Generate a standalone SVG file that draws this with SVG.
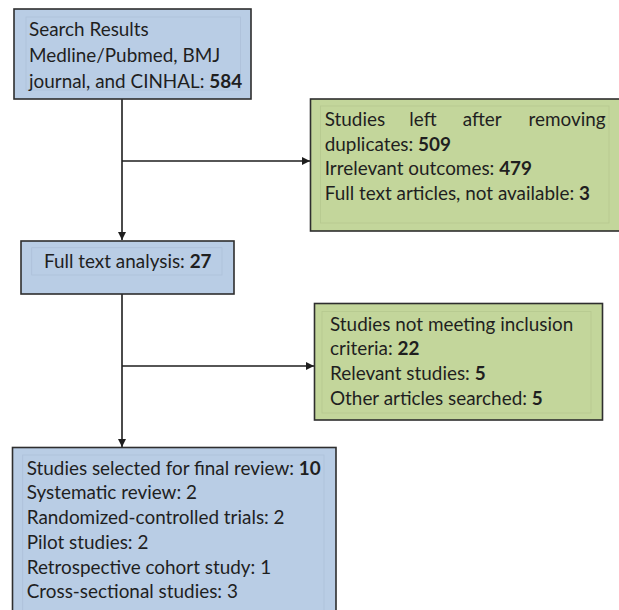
<svg xmlns="http://www.w3.org/2000/svg" width="619" height="610" viewBox="0 0 619 610">
<defs>
<marker id="arr" viewBox="0 0 10 10" refX="10" refY="5" markerWidth="9" markerHeight="8" markerUnits="userSpaceOnUse" orient="auto">
<path d="M0,0 L10,5 L0,10 z" fill="#1e1e1e"/>
</marker>
<style>
.blue{fill:#b9cde5;stroke:#2e2e2e;stroke-width:1.6}
.green{fill:#c3d69b;stroke:#2e2e2e;stroke-width:1.6}
.inb{fill:none;stroke:#adc0d9;stroke-width:0.8}
.ing{fill:none;stroke:#b6c98f;stroke-width:0.8}
.t{font-family:Lato,"Liberation Sans",sans-serif;font-size:18.9px;fill:#1f1f1f}
.b{font-weight:bold}
.c{fill:none;stroke:#1e1e1e;stroke-width:1.6}
</style>
</defs>
<g id="connectors">
<line class="c" x1="122" y1="99" x2="122" y2="240" marker-end="url(#arr)"/>
<line class="c" x1="122" y1="161" x2="310" y2="161" marker-end="url(#arr)"/>
<line class="c" x1="122" y1="294" x2="122" y2="447" marker-end="url(#arr)"/>
<line class="c" x1="122" y1="366" x2="314" y2="366" marker-end="url(#arr)"/>
</g>
<g id="search">
<rect class="blue" x="14" y="9" width="237" height="90"/>
<rect class="inb" x="26" y="17" width="214.5" height="73"/>
<text class="t" x="29" y="36">Search Results</text>
<text class="t" x="29" y="62">Medline/Pubmed, BMJ</text>
<text class="t" x="29" y="88">journal, and CINHAL: <tspan class="b">584</tspan></text>
</g>
<g id="removed">
<rect class="green" x="310.5" y="99" width="320" height="132"/>
<rect class="ing" x="320.5" y="106" width="288.5" height="117"/>
<text class="t" x="324.7" y="126">Studies</text>
<text class="t" x="409.3" y="126">left</text>
<text class="t" x="462.7" y="126">after</text>
<text class="t" x="605.7" y="126" text-anchor="end">removing</text>
<text class="t" x="324.7" y="150.5">duplicates: <tspan class="b">509</tspan></text>
<text class="t" x="324.7" y="175">Irrelevant outcomes: <tspan class="b">479</tspan></text>
<text class="t" x="324.7" y="199.5">Full text articles, not available: <tspan class="b">3</tspan></text>
</g>
<g id="fulltext">
<rect class="blue" x="21" y="241" width="213" height="53"/>
<rect class="inb" x="31.7" y="247.7" width="190.3" height="27.3"/>
<text class="t" x="44" y="268">Full text analysis: <tspan class="b">27</tspan></text>
</g>
<g id="excluded">
<rect class="green" x="314.5" y="303.5" width="288" height="116.5"/>
<rect class="ing" x="322" y="311.5" width="269" height="101.5"/>
<text class="t" x="330" y="330.5">Studies not meeting inclusion</text>
<text class="t" x="330" y="355">criteria: <tspan class="b">22</tspan></text>
<text class="t" x="330" y="380">Relevant studies: <tspan class="b">5</tspan></text>
<text class="t" x="330" y="404.5">Other articles searched: <tspan class="b">5</tspan></text>
</g>
<g id="final">
<rect class="blue" x="12.5" y="447.5" width="323.5" height="180"/>
<rect class="inb" x="22.7" y="455" width="301.3" height="160"/>
<text class="t" x="26.7" y="474.5">Studies selected for final review: <tspan class="b">10</tspan></text>
<text class="t" x="26.7" y="499.2">Systematic review: 2</text>
<text class="t" x="26.7" y="524">Randomized-controlled trials: 2</text>
<text class="t" x="26.7" y="548.8">Pilot studies: 2</text>
<text class="t" x="26.7" y="573.5">Retrospective cohort study: 1</text>
<text class="t" x="26.7" y="598.3">Cross-sectional studies: 3</text>
</g>
</svg>
